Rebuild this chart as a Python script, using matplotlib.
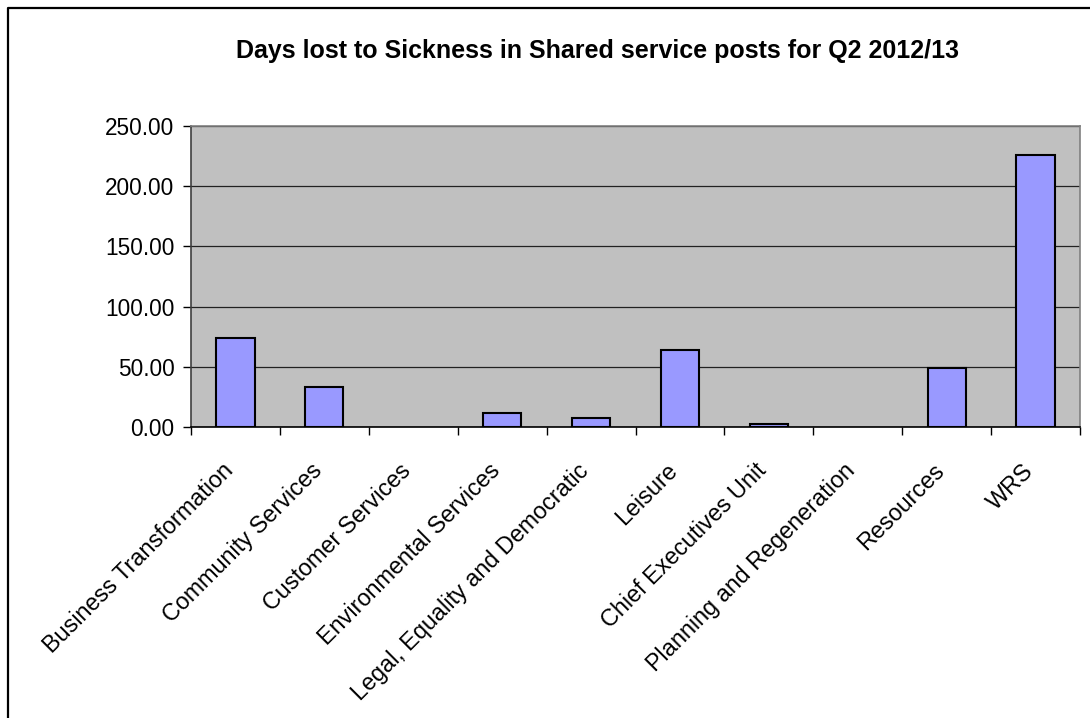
import matplotlib
matplotlib.use("Agg")
import matplotlib.pyplot as plt
import matplotlib.transforms as mtransforms
from matplotlib.lines import Line2D
import numpy as np

categories = ["Business Transformation", "Community Services", "Customer Services",
              "Environmental Services", "Legal, Equality and Democratic", "Leisure",
              "Chief Executives Unit", "Planning and Regeneration", "Resources", "WRS"]
days_lost = [74.2, 32.9, 0.0, 11.9, 7.2, 64.2, 2.7, 0.0, 49.0, 225.9]
y_ticks = [0, 50, 100, 150, 200, 250]
title = "Days lost to Sickness in Shared service posts for Q2 2012/13"

plt.rcParams['font.family'] = ['Liberation Sans', 'DejaVu Sans']

fig = plt.figure(figsize=(10.9, 7.18), dpi=100)
ax = fig.add_axes([191/1090, 1-427/718, (1080-191)/1090, (427-126)/718])
ax.set_facecolor('#C0C0C0')

x = np.arange(len(categories))
lws = [1.5 if v > 0 else 0 for v in days_lost]
ax.bar(x, days_lost, width=0.43, color='#9999FF', edgecolor='black', linewidth=lws, zorder=3)

ax.set_xlim(-0.5, len(categories) - 0.5)
ax.set_ylim(0, 250)
ax.set_yticks(y_ticks)
ax.set_yticklabels([f"{v:.2f}" for v in y_ticks], fontsize=16.3)
ax.yaxis.grid(True, color='#222222', linewidth=0.9, zorder=1)
ax.set_axisbelow(True)

ax.set_xticks(x)
ax.set_xticklabels(categories, rotation=45, ha='right', va='center',
                   rotation_mode='anchor', fontsize=16.8)
ax.tick_params(axis='x', which='major', length=0, pad=29)
offset = mtransforms.ScaledTranslation(-6/100, 0, fig.dpi_scale_trans)
for lbl in ax.get_xticklabels():
    lbl.set_transform(lbl.get_transform() + offset)
ax.set_xticks(np.arange(-0.5, len(categories), 1.0), minor=True)
ax.tick_params(axis='x', which='minor', length=6, width=1, color='black', direction='out')
ax.tick_params(axis='y', length=6, width=1, color='black', direction='out', pad=6)

for side in ['top', 'right']:
    ax.spines[side].set_color('#808080')
    ax.spines[side].set_linewidth(1.2)
ax.spines['left'].set_color('#404040')
ax.spines['bottom'].set_color('black')
ax.spines['left'].set_linewidth(1.2)
ax.spines['bottom'].set_linewidth(1.2)

fig.text(597/1090, 1-51/718, title, ha='center', va='center', fontsize=18, fontweight='bold')

fig.add_artist(Line2D([7.5/1090, 7.5/1090, 1.0], [0.0, 1-8/718, 1-8/718],
                      transform=fig.transFigure, color='black', linewidth=1.6))

fig.savefig('out.png', dpi=100)
